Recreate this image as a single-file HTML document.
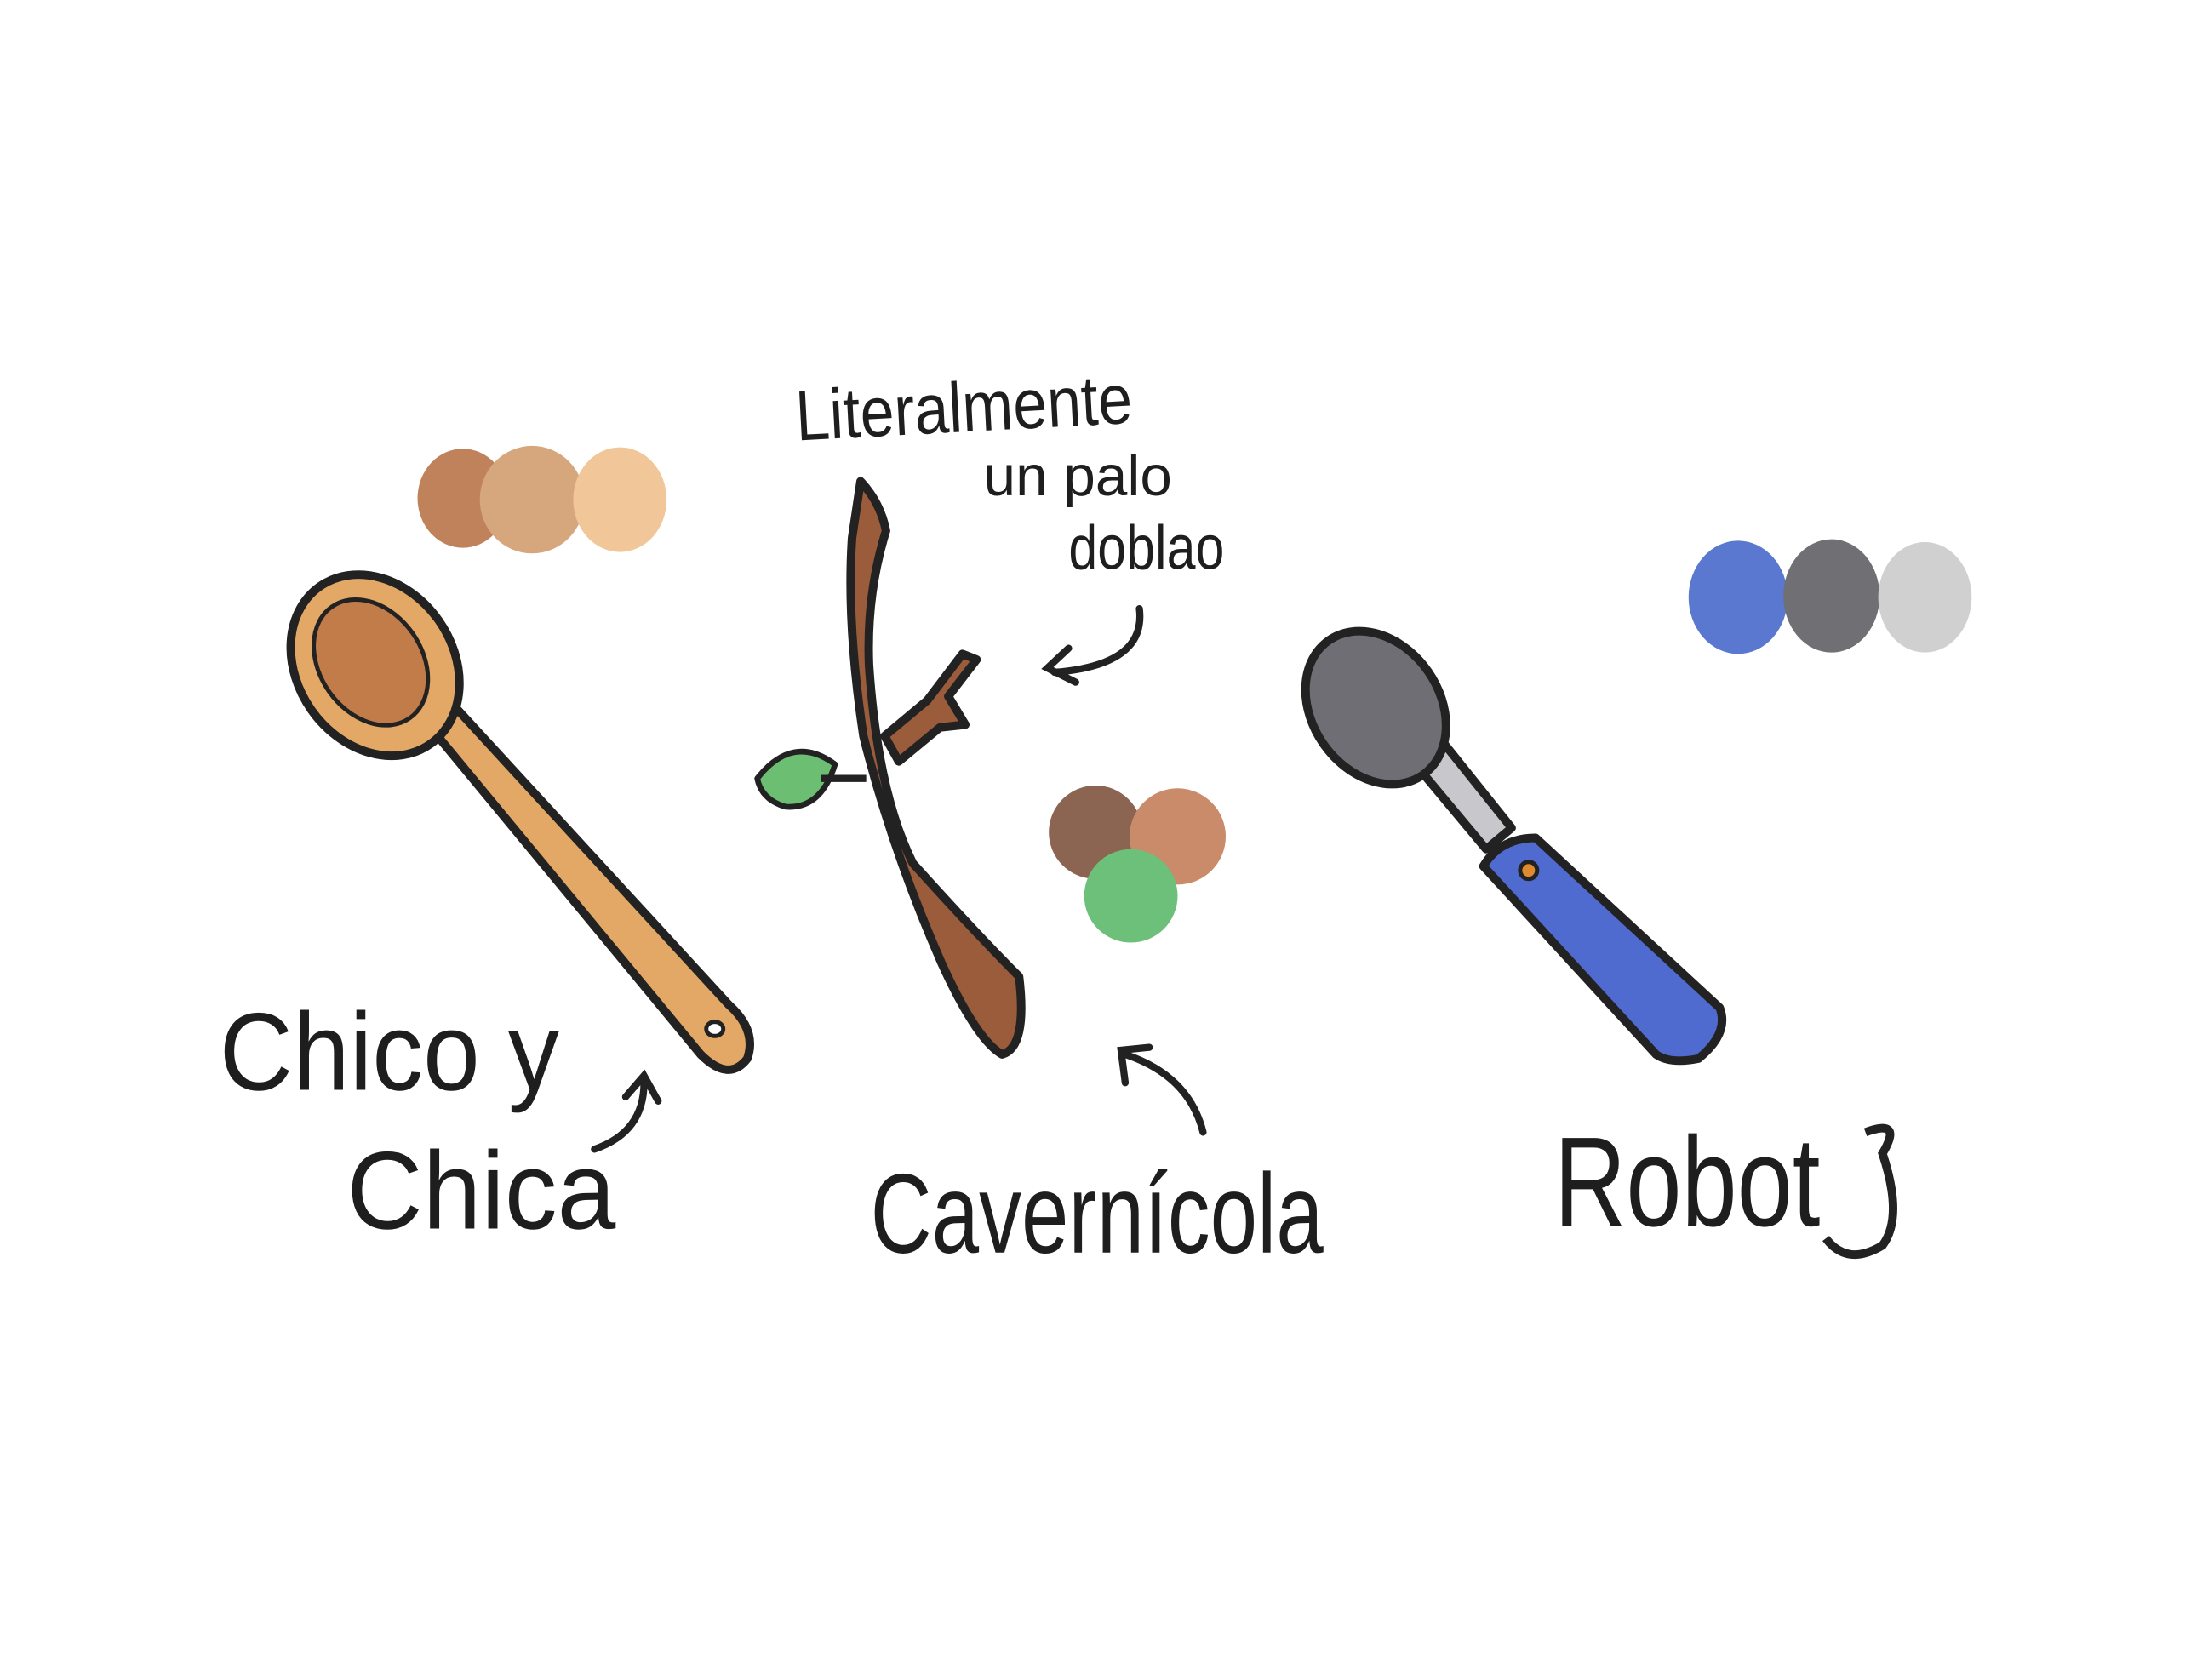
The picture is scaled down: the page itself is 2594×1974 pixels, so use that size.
<!DOCTYPE html>
<html><head><meta charset="utf-8"><style>
html,body{margin:0;padding:0;background:#fff;}
svg{display:block}
text{font-family:"Liberation Sans",sans-serif;fill:#1e1e1e;}
</style></head><body>
<svg width="2594" height="1974" viewBox="0 0 1560 1187" xmlns="http://www.w3.org/2000/svg">
<rect width="1560" height="1187" fill="#fff"/>
<g>
<ellipse cx="327" cy="352" rx="32" ry="35" fill="#c0825a"/>
<ellipse cx="376" cy="353" rx="37" ry="38" fill="#d6a67c"/>
<ellipse cx="438" cy="353" rx="33" ry="37" fill="#f1c699"/>
</g>
<g stroke="#222" stroke-width="6" stroke-linejoin="round">
<path d="M305 515 L495 745 Q515 765 528 748 Q535 728 515 710 L322 500 Z" fill="#e3a865"/>
<ellipse cx="265" cy="470" rx="55" ry="68" transform="rotate(-35 265 470)" fill="#e3a865"/>
<ellipse cx="262" cy="468" rx="36" ry="48" transform="rotate(-35 262 468)" fill="#c27c4a" stroke-width="3"/>
<ellipse cx="505" cy="727" rx="6" ry="5" fill="#fff" stroke-width="3"/>
</g>
<g stroke="#222" stroke-width="6" stroke-linejoin="round">
<path d="M608 340 Q622 355 626 375 Q612 420 614 470 Q620 560 645 610 Q690 660 720 690 Q726 740 708 745 Q690 735 665 680 Q630 600 610 520 Q598 440 602 380 Z" fill="#9b5c3c"/>
<path d="M625 520 L655 495 L680 462 L690 466 L670 492 L682 512 L664 514 L635 538 Z" fill="#9b5c3c"/>
<path d="M535 550 Q560 518 590 540 Q580 572 555 570 Q538 565 535 550 Z" fill="#6cbf72" stroke-width="4"/>
<path d="M580 550 L612 550" stroke-width="5" fill="none"/>
</g>
<g>
<circle cx="774" cy="588" r="33" fill="#8b6552"/>
<circle cx="832" cy="591" r="34" fill="#c98b69"/>
<circle cx="799" cy="633" r="33" fill="#6dc07a"/>
</g>
<g stroke="#222" stroke-width="6" stroke-linejoin="round">
<path d="M1000 540 L1050 600 L1068 585 L1020 525 Z" fill="#c8c8cc"/>
<ellipse cx="972" cy="500" rx="45" ry="58" transform="rotate(-35 972 500)" fill="#6e6e74"/>
<path d="M1048 612 Q1060 592 1085 592 L1215 712 Q1222 730 1200 748 Q1180 752 1170 745 Z" fill="#4f6bd0"/>
<circle cx="1080" cy="615" r="6" fill="#e08a30" stroke-width="3"/>
</g>
<g>
<ellipse cx="1228" cy="422" rx="35" ry="40" fill="#5a78d0"/>
<ellipse cx="1294" cy="421" rx="34" ry="40" fill="#6f6f74"/>
<ellipse cx="1360" cy="422" rx="33" ry="39" fill="#d0d0d0"/>
</g>
<g stroke="#222" stroke-width="5" fill="none" stroke-linecap="round">
<path d="M805 430 Q810 470 745 475 M755 458 L740 472 L760 482"/>
<path d="M420 812 Q455 800 455 765 M442 775 L455 760 L465 778"/>
<path d="M850 800 Q840 760 795 745 M795 765 L792 742 L812 740"/>
</g>
<text x="562" y="305" font-size="50" textLength="238" lengthAdjust="spacingAndGlyphs" transform="rotate(-3 680 290)">Literalmente</text>
<text x="695" y="350" font-size="40" textLength="133" lengthAdjust="spacingAndGlyphs">un palo</text>
<text x="755" y="402" font-size="44" textLength="110" lengthAdjust="spacingAndGlyphs">doblao</text>
<text x="155" y="770" font-size="78" textLength="240" lengthAdjust="spacingAndGlyphs">Chico y</text>
<text x="245" y="868" font-size="78" textLength="190" lengthAdjust="spacingAndGlyphs">Chica</text>
<text x="615" y="885" font-size="80" textLength="320" lengthAdjust="spacingAndGlyphs">Cavernícola</text>
<text x="1098" y="866" font-size="90" textLength="188" lengthAdjust="spacingAndGlyphs">Robot</text>
<path d="M1318 800 Q1345 790 1330 815 Q1345 860 1330 880 Q1305 895 1290 875" stroke="#222" stroke-width="6" fill="none"/>
</svg>
</body></html>
